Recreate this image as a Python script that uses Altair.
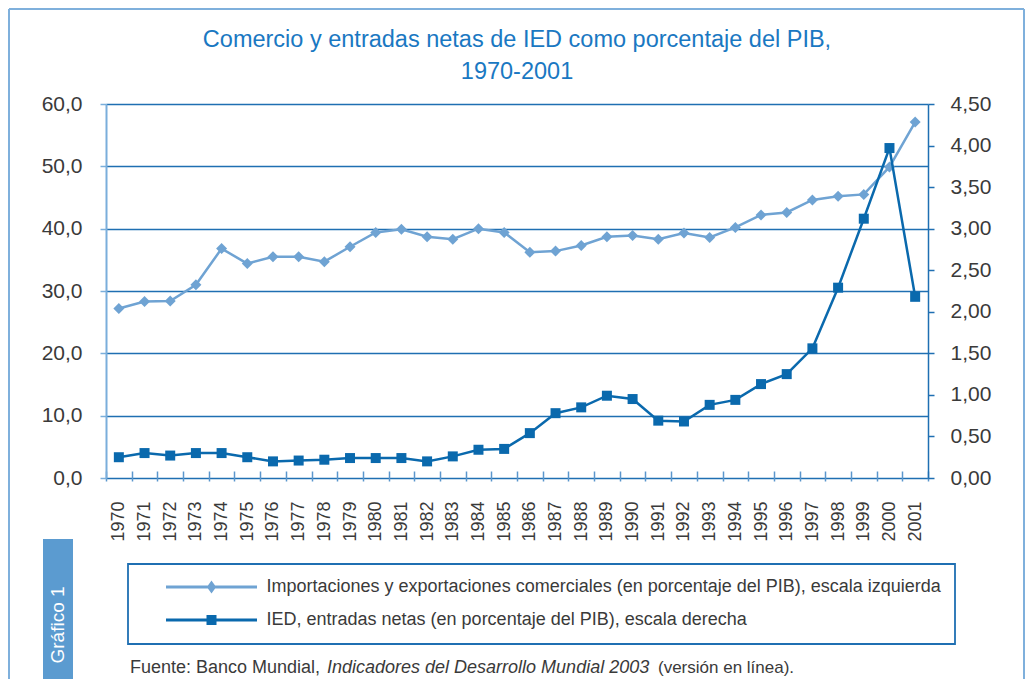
import altair as alt
import pandas as pd

# ---------------- data ----------------
years = [str(y) for y in range(1970, 2002)]
trade = [27.2, 28.3, 28.4, 31.0, 36.8, 34.4, 35.5, 35.5, 34.7, 37.1, 39.4, 39.9,
         38.7, 38.3, 40.0, 39.4, 36.2, 36.4, 37.3, 38.7, 38.9, 38.3, 39.3, 38.6,
         40.2, 42.2, 42.6, 44.6, 45.2, 45.5, 49.9, 57.1]
fdi = [0.25, 0.30, 0.27, 0.30, 0.30, 0.25, 0.20, 0.21, 0.22, 0.24, 0.24, 0.24,
       0.20, 0.26, 0.34, 0.35, 0.54, 0.78, 0.85, 0.99, 0.95, 0.69, 0.68, 0.88,
       0.94, 1.13, 1.25, 1.56, 2.29, 3.12, 3.97, 2.18]
series_labels = [
    "Importaciones y exportaciones comerciales (en porcentaje del PIB), escala izquierda",
    "IED, entradas netas (en porcentaje del PIB), escala derecha",
]
left_ticks = [0, 10, 20, 30, 40, 50, 60]
right_ticks = [0, 0.5, 1.0, 1.5, 2.0, 2.5, 3.0, 3.5, 4.0, 4.5]
title_lines = ["Comercio y entradas netas de IED como porcentaje del PIB,", "1970-2001"]
source_parts = ["Fuente: Banco Mundial,", "Indicadores del Desarrollo Mundial 2003",
                "(versión en línea)."]
side_label = "Gráfico 1"

# ---------------- style ----------------
FONT = "Liberation Sans"
LIGHT = "#6fa3d3"
DARK = "#0a69ad"
GRID = "#1f6fb2"
AXIS_LIGHT = "#7aaedb"
TICK = "#5a96cc"
TEXT = "#3a3a3a"
TITLE = "#1a78c2"
BG = "#f0f0f0"
SIDE = "#5b9bd0"
FRAME = "#7fb0dc"
W, H = 822, 374

df = pd.DataFrame({"year": years, "trade": trade, "fdi": fdi})

x_enc = alt.X(
    "year:O", title=None,
    scale=alt.Scale(type="band", paddingInner=0, paddingOuter=0),
    axis=alt.Axis(domain=False, offset=-7, tickSize=10, tickColor=TICK, tickWidth=1.5,
                  tickBand="extent", labelAngle=-90, labelFontSize=18, labelColor=TEXT,
                  labelFont=FONT, labelPadding=20, grid=False),
)
y_left = alt.Y(
    "trade:Q", title=None, scale=alt.Scale(domain=[0, 60], nice=False),
    axis=alt.Axis(orient="left", values=left_ticks, grid=True, gridColor=GRID, gridWidth=1.5,
                  domainColor=AXIS_LIGHT, domainWidth=2, tickColor=AXIS_LIGHT, tickWidth=1.5,
                  tickSize=6, labelFontSize=21, labelColor=TEXT, labelFont=FONT, labelPadding=18,
                  labelExpr="replace(format(datum.value, '.1f'), '.', ',')"),
)
y_right = alt.Y(
    "fdi:Q", title=None, scale=alt.Scale(domain=[0, 4.5], nice=False),
    axis=alt.Axis(orient="right", values=right_ticks, grid=False, domainColor=GRID,
                  domainWidth=1.5, tickColor=GRID, tickWidth=1.5, tickSize=6, labelFontSize=21,
                  labelColor=TEXT, labelFont=FONT, labelPadding=16,
                  labelExpr="replace(format(datum.value, '.2f'), '.', ',')"),
)

base = alt.Chart(df).encode(x=x_enc)
trade_line = base.mark_line(color=LIGHT, strokeWidth=2.5).encode(y=y_left)
trade_pts = base.mark_point(shape="diamond", filled=True, size=121, color=LIGHT,
                            opacity=1).encode(y=y_left)
fdi_line = base.mark_line(color=DARK, strokeWidth=2.5).encode(y=y_right)
fdi_pts = base.mark_point(shape="square", filled=True, size=100, color=DARK,
                          opacity=1).encode(y=y_right)

# legend (symbols = line segment + marker)
P1 = "M-6.5,0L6.5,0M0,-0.55L0.4,0L0,0.55L-0.4,0Z"
P2 = "M-6.5,0L6.5,0M-0.5,-0.5L0.5,-0.5L0.5,0.5L-0.5,0.5Z"
leg = alt.Legend(
    title=None, orient="none", legendX=22, legendY=460, direction="vertical",
    padding=14, strokeColor=GRID, fillColor="white", symbolSize=196, symbolStrokeWidth=3,
    symbolOpacity=1, symbolOffset=60.5, labelOffset=46, rowPadding=13, labelFontSize=18,
    labelFont=FONT, labelColor=TEXT, labelLimit=1000,
)
legend_df = pd.DataFrame({"serie": series_labels})
legend_layer = alt.Chart(legend_df).transform_filter("false").mark_point(
    filled=True, size=196, opacity=1).encode(
    fill=alt.Fill("serie:N", scale=alt.Scale(domain=series_labels, range=[LIGHT, DARK]), legend=leg),
    stroke=alt.Stroke("serie:N", scale=alt.Scale(domain=series_labels, range=[LIGHT, DARK]), legend=leg),
    shape=alt.Shape("serie:N", scale=alt.Scale(domain=series_labels, range=[P1, P2]), legend=leg),
)

# decorations
one = pd.DataFrame({"k": [0]})
frame_left = alt.Chart(one).mark_rule(color=FRAME, strokeWidth=2).encode(
    x=alt.value(-97), y=alt.value(-95), y2=alt.value(575))
frame_top = alt.Chart(one).mark_rule(color=FRAME, strokeWidth=2).encode(
    x=alt.value(-97), x2=alt.value(918), y=alt.value(-95))
frame_right = alt.Chart(one).mark_rule(color=FRAME, strokeWidth=2).encode(
    x=alt.value(918), y=alt.value(-95), y2=alt.value(575))
side_box = alt.Chart(one).mark_rect(color=SIDE).encode(
    x=alt.value(-63), x2=alt.value(-33), y=alt.value(435), y2=alt.value(575))
side_text = alt.Chart(pd.DataFrame({"t": [side_label]})).mark_text(
    angle=270, color="white", fontSize=19, font=FONT,
    align="center", baseline="middle").encode(
    text="t:N", x=alt.value(-48), y=alt.value(521))
title1 = alt.Chart(pd.DataFrame({"t": [title_lines[0]]})).mark_text(
    fontSize=23.5, font=FONT, color=TITLE, align="center", baseline="alphabetic").encode(
    text="t:N", x=alt.value(411), y=alt.value(-57))
title2 = alt.Chart(pd.DataFrame({"t": [title_lines[1]]})).mark_text(
    fontSize=23.5, font=FONT, color=TITLE, align="center", baseline="alphabetic").encode(
    text="t:N", x=alt.value(411), y=alt.value(-25))
src1 = alt.Chart(pd.DataFrame({"t": [source_parts[0]]})).mark_text(
    fontSize=18, font=FONT, color=TEXT, align="left", baseline="alphabetic").encode(
    text="t:N", x=alt.value(24), y=alt.value(569))
src2 = alt.Chart(pd.DataFrame({"t": [source_parts[1]]})).mark_text(
    fontSize=18, font=FONT, color=TEXT, align="left", baseline="alphabetic",
    fontStyle="italic").encode(text="t:N", x=alt.value(221), y=alt.value(569))
src3 = alt.Chart(pd.DataFrame({"t": [source_parts[2]]})).mark_text(
    fontSize=17, font=FONT, color=TEXT, align="left", baseline="alphabetic").encode(
    text="t:N", x=alt.value(552), y=alt.value(569))

chart = alt.layer(
    alt.layer(trade_line, trade_pts, legend_layer),
    alt.layer(fdi_line, fdi_pts),
    frame_left, frame_top, frame_right, side_box, side_text, title1, title2,
    src1, src2, src3,
).resolve_scale(y="independent").properties(
    width=W, height=H, padding=0, background="white",
).configure_view(fill=BG, stroke="transparent").configure_legend(strokeWidth=1.8)

chart.save("out.html", embed_options={"renderer": "svg", "actions": False})
